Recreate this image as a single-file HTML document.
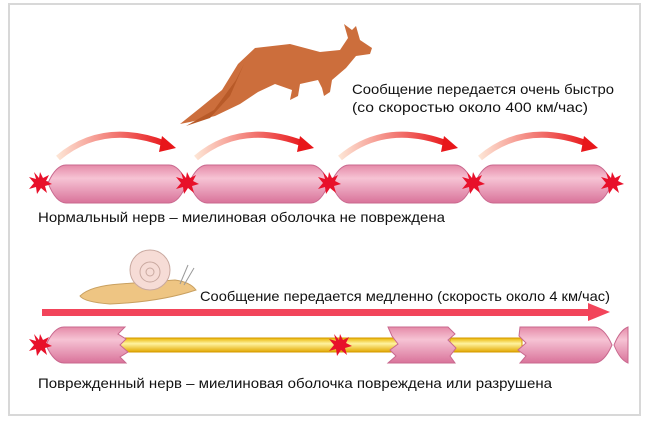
<!DOCTYPE html>
<html><head><meta charset="utf-8"><style>
html,body{margin:0;padding:0;background:#fff;}
svg{display:block;}
text{font-family:"Liberation Sans",sans-serif;}
</style></head><body>
<svg width="650" height="423" viewBox="0 0 650 423" xmlns="http://www.w3.org/2000/svg">
<defs>
<linearGradient id="pk" x1="0" y1="0" x2="0" y2="1">
<stop offset="0" stop-color="#e58aa8"/><stop offset="0.35" stop-color="#f6c3d4"/><stop offset="1" stop-color="#d9739a"/>
</linearGradient>
<linearGradient id="yl" x1="0" y1="0" x2="0" y2="1">
<stop offset="0" stop-color="#e9b400"/><stop offset="0.4" stop-color="#fff3a0"/><stop offset="1" stop-color="#e2a800"/>
</linearGradient>
<linearGradient id="ar" x1="0" y1="0" x2="1" y2="0">
<stop offset="0" stop-color="#fde4d4"/><stop offset="1" stop-color="#e8161a"/>
</linearGradient>
<g id="star"><polygon points="0,-11 3,-5 9,-8 6,-2 12,1 5,3 7,10 1,5 -3,11 -4,4 -11,6 -6,0 -11,-6 -4,-4 -6,-11 -1,-5" fill="#e8102a"/></g>
<g id="arc"><path d="M0,20 Q45,-18 108,6" fill="none" stroke="url(#ar)" stroke-width="6"/><polygon points="104,-2 118,10 101,14" fill="#e8161a"/></g>
</defs>
<rect x="9" y="4" width="631" height="411" fill="#fff" stroke="#d8d8d8" stroke-width="2"/>
<!-- kangaroo -->
<path d="M180,124 L200,108 L222,90 L238,64 L255,48 L290,44 L320,52 L340,50 L348,38 L344,24 L352,30 L356,26 L360,40 L372,48 L370,54 L356,56 L346,68 L332,80 L330,92 L324,96 L322,88 L318,80 L300,84 L298,96 L290,100 L292,90 L275,84 L258,92 L240,104 L215,116 L190,122 Z" fill="#cc6e3c"/>
<path d="M244,64 L230,96 L210,118 L186,126 L214,110 L236,80 Z" fill="#b85a28"/>
<!-- top text -->
<text x="352" y="94" font-size="14" fill="#111" textLength="262" lengthAdjust="spacingAndGlyphs">Сообщение передается очень быстро</text>
<text x="352" y="112" font-size="14" fill="#111" textLength="236" lengthAdjust="spacingAndGlyphs">(со скоростью около 400 км/час)</text>
<!-- arcs -->
<use href="#arc" x="58" y="138"/>
<use href="#arc" x="196" y="138"/>
<use href="#arc" x="340" y="138"/>
<use href="#arc" x="480" y="138"/>
<!-- top nerve -->
<rect x="40" y="181" width="575" height="4" fill="#d9739a"/>
<path d="M48,183 Q56,165 66,165 L169,165 Q179,165 187,183 Q179,203 169,203 L66,203 Q56,203 48,183 Z" fill="url(#pk)" stroke="#c9688e"/>
<path d="M189,183 Q197,165 207,165 L311,165 Q321,165 329,183 Q321,203 311,203 L207,203 Q197,203 189,183 Z" fill="url(#pk)" stroke="#c9688e"/>
<path d="M331,183 Q339,165 349,165 L455,165 Q465,165 473,183 Q465,203 455,203 L349,203 Q339,203 331,183 Z" fill="url(#pk)" stroke="#c9688e"/>
<path d="M475,183 Q483,165 493,165 L594,165 Q604,165 612,183 Q604,203 594,203 L493,203 Q483,203 475,183 Z" fill="url(#pk)" stroke="#c9688e"/>
<use href="#star" x="40" y="183"/><use href="#star" x="187" y="183"/><use href="#star" x="329" y="183"/><use href="#star" x="473" y="183"/><use href="#star" x="612" y="183"/>
<text x="38" y="222" font-size="14" fill="#111" textLength="407" lengthAdjust="spacingAndGlyphs">Нормальный нерв – миелиновая оболочка не повреждена</text>
<!-- snail -->
<path d="M80,296 Q90,286 120,284 L175,280 Q190,282 196,290 Q160,302 110,304 Q84,302 80,296 Z" fill="#eec583" stroke="#c9a060"/>
<circle cx="150" cy="270" r="20" fill="#f6dcd6" stroke="#c9a9a0"/>
<circle cx="150" cy="272" r="10" fill="none" stroke="#c9a9a0"/>
<circle cx="150" cy="272" r="4" fill="none" stroke="#c9a9a0"/>
<line x1="180" y1="284" x2="188" y2="265" stroke="#999"/><line x1="184" y1="285" x2="194" y2="268" stroke="#999"/>
<text x="200" y="301" font-size="14" fill="#111" textLength="410" lengthAdjust="spacingAndGlyphs">Сообщение передается медленно (скорость около 4 км/час)</text>
<!-- red arrow -->
<rect x="42" y="309" width="550" height="7" fill="#f2445a"/>
<polygon points="588,303 610,312 588,321" fill="#f2445a"/>
<!-- bottom nerve -->
<rect x="118" y="338" width="290" height="14" fill="url(#yl)" stroke="#d49a00"/>
<rect x="450" y="338" width="72" height="14" fill="url(#yl)" stroke="#d49a00"/>
<path d="M46,345 Q54,327 64,327 L125,327 L118,334 L126,339 L120,345 L128,352 L120,357 L126,363 L64,363 Q54,363 46,345 Z" fill="url(#pk)" stroke="#c9688e"/>
<path d="M388,327 L448,327 L455,334 L448,340 L456,348 L450,356 L455,363 L388,363 L396,356 L390,350 L398,344 L392,336 Z" fill="url(#pk)" stroke="#c9688e"/>
<path d="M520,327 L594,327 Q604,327 612,345 Q604,363 594,363 L520,363 L526,356 L518,350 L526,343 L519,336 Z" fill="url(#pk)" stroke="#c9688e"/>
<path d="M614,345 Q620,330 628,327 L628,363 Q620,360 614,345 Z" fill="url(#pk)" stroke="#c9688e"/>
<use href="#star" x="40" y="345"/><use href="#star" x="340" y="345"/>
<text x="38" y="388" font-size="14" fill="#111" textLength="514" lengthAdjust="spacingAndGlyphs">Поврежденный нерв – миелиновая оболочка повреждена или разрушена</text>
</svg>
</body></html>
